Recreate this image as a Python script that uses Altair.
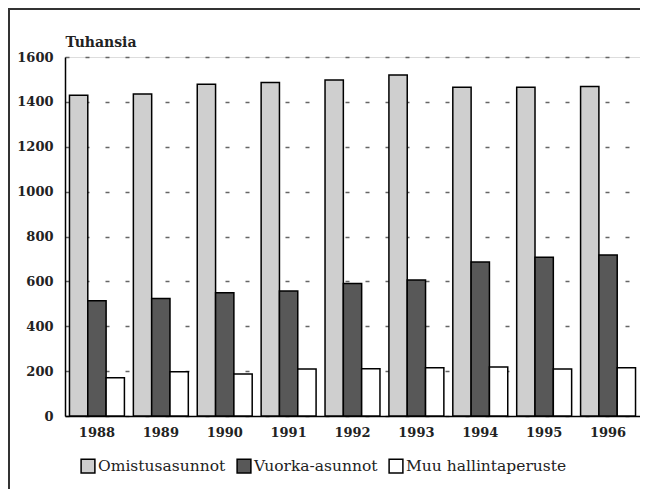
import altair as alt
import pandas as pd

years = ["1988", "1989", "1990", "1991", "1992", "1993", "1994", "1995", "1996"]
series = ["Omistusasunnot", "Vuorka-asunnot", "Muu hallintaperuste"]
omistus = [1430, 1435, 1478, 1486, 1498, 1520, 1465, 1465, 1468]
vuokra = [514, 524, 549, 557, 591, 606, 686, 708, 717]
muu = [171, 197, 187, 209, 211, 215, 218, 209, 215]
colors = ["#cfcfcf", "#585858", "#ffffff"]

rows = []
for i, y in enumerate(years):
    for s, vals in zip(series, [omistus, vuokra, muu]):
        rows.append({"year": y, "series": s, "value": vals[i]})
df = pd.DataFrame(rows)

font = "DejaVu Serif"

bars = alt.Chart(df).mark_bar(stroke="black", strokeWidth=1.5, opacity=1).encode(
    x=alt.X("year:N", sort=years, title=None,
            scale=alt.Scale(paddingInner=0.14, paddingOuter=0.07),
            axis=alt.Axis(labelAngle=0, ticks=False, labelPadding=10,
                          domainColor="black", domainWidth=1.5,
                          labelFont=font, labelFontWeight="bold", labelFontSize=13,
                          labelColor="#222")),
    xOffset=alt.XOffset("series:N", sort=series,
                        scale=alt.Scale(paddingInner=0, paddingOuter=0)),
    y=alt.Y("value:Q", title="Tuhansia",
            scale=alt.Scale(domain=[0, 1600], nice=False),
            axis=alt.Axis(values=[0, 200, 400, 600, 800, 1000, 1200, 1400, 1600],
                          format="d",
                          ticks=False, labelPadding=12,
                          domainColor="black", domainWidth=1.5,
                          grid=True, gridColor="#666", gridDash=[4, 16], gridWidth=1.5,
                          labelFont=font, labelFontWeight="bold", labelFontSize=13,
                          labelColor="#222",
                          titleAngle=0, titleAlign="left", titleBaseline="bottom",
                          titleX=0, titleY=-8, titleFont=font, titleFontWeight="bold",
                          titleFontSize=14, titleColor="#222")),
    fill=alt.Fill("series:N", sort=series,
                  scale=alt.Scale(domain=series, range=colors),
                  legend=alt.Legend(title=None, orient="none", direction="horizontal",
                                    legendX=15, legendY=401,
                                    symbolType="square", symbolSize=190,
                                    symbolStrokeColor="black", symbolStrokeWidth=1.5,
                                    labelFont=font, labelFontSize=15.5, labelColor="#222",
                                    labelLimit=400, labelOffset=2, columnPadding=8)),
)

frame_data = alt.Data(values=[{"a": 1}])
top_line = alt.Chart(frame_data).mark_rect(color="#333", strokeWidth=0).encode(
    x=alt.value(-57), x2=alt.value(575), y=alt.value(-49), y2=alt.value(-47))
left_line = alt.Chart(frame_data).mark_rect(color="#333", strokeWidth=0).encode(
    x=alt.value(-57), x2=alt.value(-55), y=alt.value(-49), y2=alt.value(432))

chart = alt.layer(bars, top_line, left_line).properties(
    width=575, height=359,
    autosize=alt.AutoSizeParams(type="none"),
    padding={"left": 57, "top": 49, "right": 0, "bottom": 73},
).configure_view(stroke=None).configure(background="white")

chart.save("out.html", embed_options={"renderer": "svg", "actions": False})
